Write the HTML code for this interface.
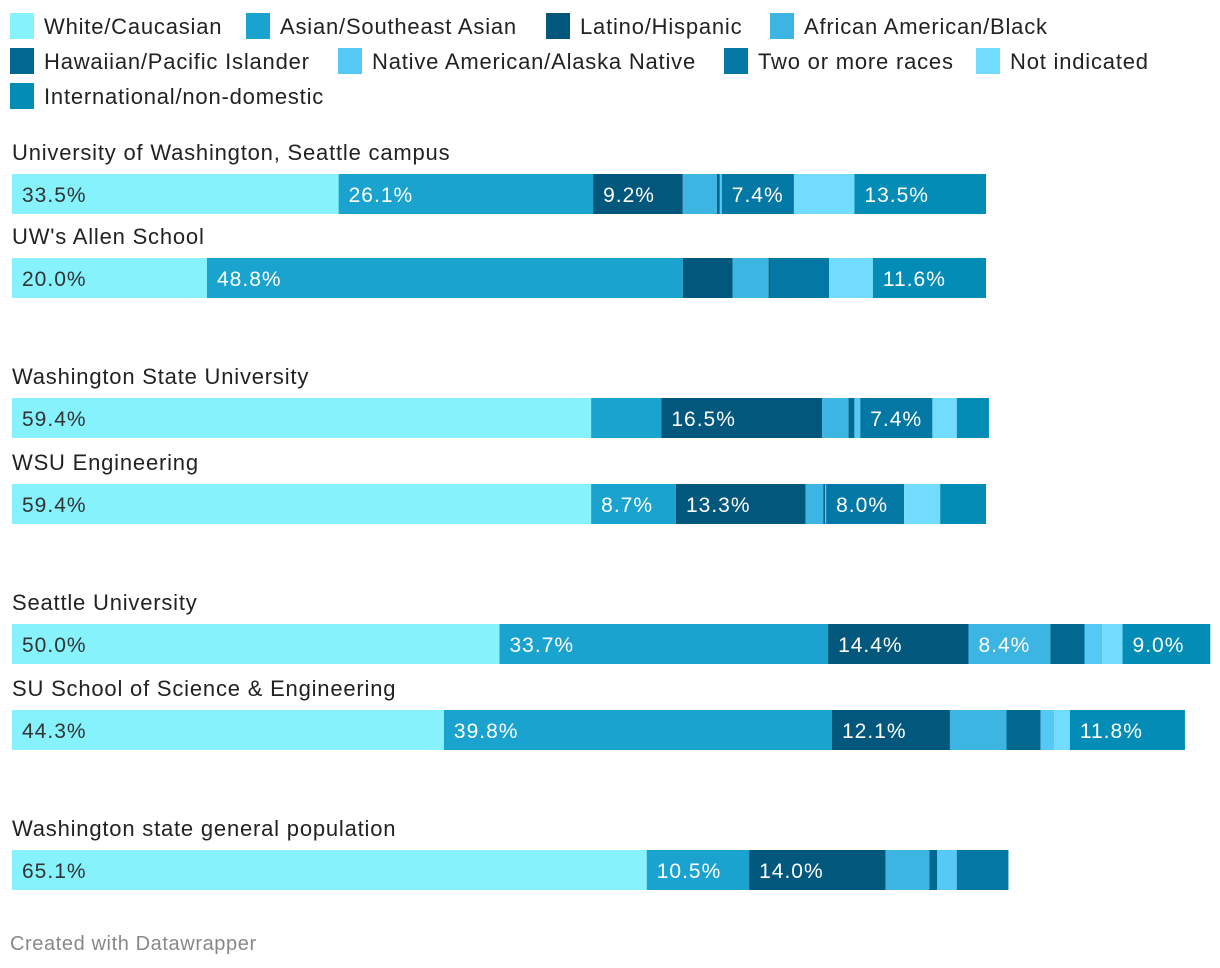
<!DOCTYPE html>
<html><head><meta charset="utf-8">
<style>
body{margin:0;background:#fff;font-family:"Liberation Sans",sans-serif;}
svg{display:block}
text{font-family:"Liberation Sans",sans-serif;}
</style></head>
<body>
<svg id="chart" width="1220" height="968"></svg>
<script>
const series = ["White/Caucasian","Asian/Southeast Asian","Latino/Hispanic","African American/Black","Hawaiian/Pacific Islander","Native American/Alaska Native","Two or more races","Not indicated","International/non-domestic"];
const colors = ["#86f2fc","#1aa3cf","#02577c","#3db5e2","#036890","#55c8f5","#0478a5","#72dcff","#038db6"];
const categories = ["University of Washington, Seattle campus","UW's Allen School","Washington State University","WSU Engineering","Seattle University","SU School of Science & Engineering","Washington state general population"];
const white = [33.5,20.0,59.4,59.4,50.0,44.3,65.1];
const asian = [26.1,48.8,7.2,8.7,33.7,39.8,10.5];
const latino = [9.2,5.1,16.5,13.3,14.4,12.1,14.0];
const black = [3.5,3.7,2.7,1.8,8.4,5.8,4.5];
const hawaiian = [0.3,0.2,0.6,0.2,3.5,3.5,0.8];
const native = [0.2,0.0,0.6,0.1,1.8,1.4,2.0];
const twoOrMore = [7.4,6.0,7.4,8.0,0.0,0.0,5.3];
const notIndicated = [6.2,4.5,2.5,3.7,2.1,1.6,0.0];
const international = [13.5,11.6,3.3,4.7,9.0,11.8,0.0];
const values = [white,asian,latino,black,hawaiian,native,twoOrMore,notIndicated,international];

const NS="http://www.w3.org/2000/svg";
const svg=document.getElementById('chart');
function mk(tag,attrs){const e=document.createElementNS(NS,tag);for(const k in attrs)e.setAttribute(k,attrs[k]);return e;}
const x0=12, pxPer=9.75;
function xs(v){return v*pxPer;}
const legendPos=[[10,26],[246,26],[546,26],[770,26],[10,61],[338,61],[724,61],[976,61],[10,96]];
series.forEach((s,i)=>{
  const g=mk('g',{});
  
  
  const [lx,ly]=legendPos[i];
  g.appendChild(mk('rect',{x:lx,y:ly-13,width:24,height:26,fill:colors[i]}));
  const t=mk('text',{x:lx+34,y:ly+8,'font-size':22,'letter-spacing':0.8,fill:'#222'});t.textContent=s;g.appendChild(t);
  svg.appendChild(g);
});
const labelY=[152,236,376,462,602,688,828];
categories.forEach((c,r)=>{
  const t=mk('text',{x:12,y:labelY[r]+8,'font-size':22,'letter-spacing':0.8,fill:'#222'});
  
  
  t.textContent=c;svg.appendChild(t);
  const by=labelY[r]+22;
  let cx=x0;
  values.forEach((arr,si)=>{
    const v=arr[r]; if(v<=0) return;
    const w=xs(v);
    const rect=mk('rect',{x:cx,y:by,width:w,height:40,fill:colors[si]});
    
    
    svg.appendChild(rect);
    if(v>=7.3){
      const lt=mk('text',{x:cx+10,y:by+28,'font-size':21,'letter-spacing':1,fill:si===0?'#333':'#fff'});
      
      
      lt.textContent=v.toFixed(1)+'%';svg.appendChild(lt);
    }
    cx+=w;
  });
});
const f=mk('text',{x:10,y:950,'font-size':20,'letter-spacing':0.6,fill:'#888'});


f.textContent='Created with Datawrapper';svg.appendChild(f);
</script>
</body></html>
